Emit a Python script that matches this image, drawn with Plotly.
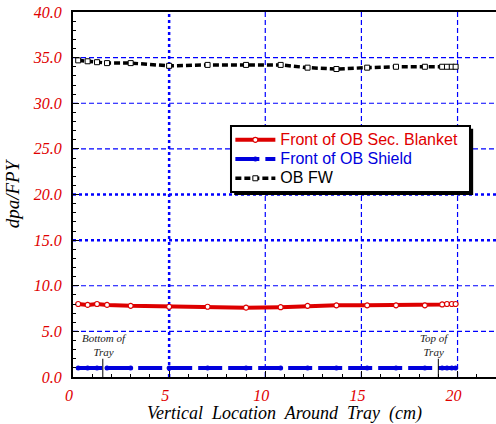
import plotly.graph_objects as go

x_pos = [0.27, 0.76, 1.25, 1.77, 3.0, 5.0, 7.0, 9.0, 10.8, 12.2, 13.7, 15.3, 16.8, 18.3, 19.2, 19.45, 19.7, 19.9]
blanket = [8.0, 7.9, 8.0, 7.9, 7.8, 7.7, 7.7, 7.6, 7.65, 7.8, 7.85, 7.85, 7.85, 7.85, 7.95, 8.0, 8.0, 8.0]
shield = [1.0, 1.0, 1.0, 1.0, 1.0, 1.0, 1.0, 1.0, 1.0, 1.0, 1.0, 1.0, 1.0, 1.0, 1.0, 1.0, 1.0, 1.0]
ob_fw = [34.7, 34.6, 34.5, 34.4, 34.4, 34.1, 34.2, 34.2, 34.2, 33.9, 33.75, 33.9, 34.0, 34.0, 34.0, 34.0, 34.0, 34.0]
x_grid_thin = [10, 15, 20]
x_grid_thick = [5]
y_grid_thin = [5, 10, 25, 30, 35]
y_grid_thick = [15, 20]

serif = "Liberation Serif"
grid_blue = "#0000ff"
fig = go.Figure()
fig.add_trace(go.Scatter(
    x=x_pos, y=blanket, mode="lines+markers",
    name="<span style='color:#e00000;font-size:16px'>Front of OB Sec. Blanket</span>",
    line=dict(color="#dd0000", width=4),
    marker=dict(symbol="circle", size=5, color="white", line=dict(color="#dd0000", width=1.2)),
))
fig.add_trace(go.Scatter(
    x=x_pos, y=shield, mode="lines+markers",
    name="<span style='color:#0000dd;font-size:16px'>Front of OB Shield</span>",
    line=dict(color="#0000dd", width=4, dash="24px,6px"),
    marker=dict(symbol="circle", size=5, color="#0000dd"),
))
fig.add_trace(go.Scatter(
    x=x_pos, y=ob_fw, mode="lines+markers",
    name="<span style='font-size:16px'>OB FW</span>",
    line=dict(color="black", width=3.5, dash="6px,3px"),
    marker=dict(symbol="square", size=5, color="white", line=dict(color="black", width=1)),
))

shapes = []
for xv in x_grid_thin:
    shapes.append(dict(type="line", xref="x", yref="paper", x0=xv, x1=xv, y0=0, y1=1,
                       line=dict(color=grid_blue, width=1.2, dash="5px,3px"), layer="below"))
for yv in y_grid_thin:
    shapes.append(dict(type="line", xref="paper", yref="y", x0=0, x1=1, y0=yv, y1=yv,
                       line=dict(color=grid_blue, width=1.2, dash="5px,3px"), layer="below"))
for xv in x_grid_thick:
    shapes.append(dict(type="line", xref="x", yref="paper", x0=xv, x1=xv, y0=0, y1=1,
                       line=dict(color=grid_blue, width=2.5, dash="dot"), layer="below"))
for yv in y_grid_thick:
    shapes.append(dict(type="line", xref="paper", yref="y", x0=0, x1=1, y0=yv, y1=yv,
                       line=dict(color=grid_blue, width=2.5, dash="dot"), layer="below"))
# tray markers
for xv in [1.55, 19.0]:
    shapes.append(dict(type="line", xref="x", yref="y", x0=xv, x1=xv, y0=0, y1=2.0,
                       line=dict(color="black", width=1)))
# legend shadow and box
shapes.append(dict(type="rect", xref="paper", yref="paper", x0=0.381, x1=0.946, y0=0.4986, y1=0.68,
                   line=dict(width=0), fillcolor="black", layer="above"))
shapes.append(dict(type="rect", xref="paper", yref="paper", x0=0.3735, x1=0.9385, y0=0.5068, y1=0.6877,
                   line=dict(width=2, color="black"), fillcolor="white", layer="above"))

fig.update_layout(
    width=496, height=424,
    margin=dict(l=73, r=0, t=12, b=47),
    plot_bgcolor="white", paper_bgcolor="white",
    shapes=shapes,
    showlegend=True,
    hovermode=False,
    legend=dict(x=0.372, y=0.69, xanchor="left", yanchor="top",
                bgcolor="rgba(0,0,0,0)", borderwidth=0,
                font=dict(family="Liberation Sans", size=12.5, color="black"),
                tracegroupgap=0, itemwidth=40),
    annotations=[
        dict(x=1.65, y=3.5, xref="x", yref="y", text="Bottom of<br>Tray", showarrow=False,
             font=dict(family=serif, size=11, color="#222", style="italic")),
        dict(x=18.8, y=3.5, xref="x", yref="y", text="Top of<br>Tray", showarrow=False,
             font=dict(family=serif, size=11, color="#222", style="italic")),
    ],
)
fig.update_xaxes(
    range=[0, 22], tickvals=[0, 5, 10, 15, 20], ticktext=["0", "5", "10", "15", "20"],
    automargin=False, showgrid=False,
    showline=True, linecolor="black", linewidth=2, mirror=True,
    ticks="inside", ticklen=6, tickcolor="black",
    ticklabelstandoff=3, ticklabelshift=-4,
    minor=dict(dtick=1, ticks="inside", ticklen=3, tickcolor="black", showgrid=False),
    tickfont=dict(family=serif, size=16, color="#e00000", style="italic"),
    title=dict(text="Vertical  Location  Around  Tray  (cm)", standoff=2,
               font=dict(family=serif, size=18, color="black", style="italic")),
    zeroline=False,
)
fig.update_yaxes(
    range=[0, 40], dtick=5, tickformat=".1f",
    automargin=False, showgrid=False,
    showline=True, linecolor="black", linewidth=2, mirror=True,
    ticks="inside", ticklen=6, tickcolor="black",
    ticklabelstandoff=6,
    minor=dict(dtick=1, ticks="inside", ticklen=3, tickcolor="black", showgrid=False),
    tickfont=dict(family=serif, size=16, color="#e00000", style="italic"),
    title=dict(text="dpa/FPY", standoff=8,
               font=dict(family=serif, size=19, color="black", style="italic")),
    zeroline=False,
)
fig.write_html("out.html", config={"displayModeBar": False},
               post_script="document.body.style.margin='0';")
